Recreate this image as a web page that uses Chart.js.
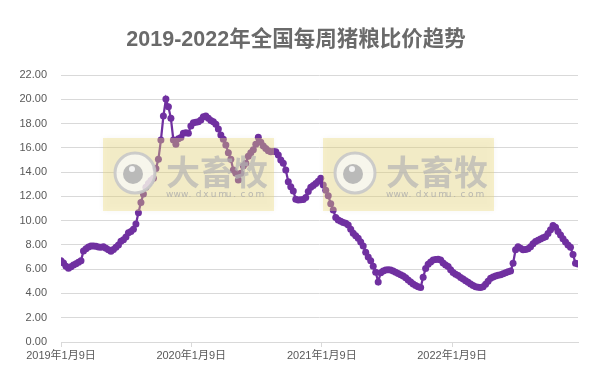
<!DOCTYPE html>
<html lang="zh-CN">
  <head>
    <meta charset="UTF-8" />
    <title>2019-2022年全国每周猪粮比价趋势</title>
    <script src="https://cdn.jsdelivr.net/npm/chart.js"></script>
    <style>
      html, body {
        margin: 0;
        padding: 0;
        background: #ffffff;
      }
      #wrap {
        width: 603px;
        height: 380px;
      }
    </style>
  </head>
  <body>
    <div id="wrap"><canvas id="chartCanvas" width="603" height="380"></canvas></div>

    <script>
      const chartTitle = "2019-2022年全国每周猪粮比价趋势";
      const startDate = "2019-01-09";
      const tickDates = ["2019-01-09", "2020-01-09", "2021-01-09", "2022-01-09"];
      const tickLabels = ["2019年1月9日", "2020年1月9日", "2021年1月9日", "2022年1月9日"];
      const yTicks = { min: 0, max: 22, step: 2 };

      // weekly hog/grain price ratio, one value per week from startDate
      const ratio = [
        6.70, 6.50, 6.25, 6.07, 6.20, 6.35, 6.45, 6.58, 6.70, 7.50,
        7.68, 7.82, 7.90, 7.92, 7.88, 7.82, 7.80, 7.85, 7.72, 7.60,
        7.48, 7.62, 7.80, 8.00, 8.30, 8.42, 8.65, 9.00, 9.10, 9.30,
        9.72, 10.65, 11.50, 12.20, 12.75, 13.05, 13.30, 13.50, 14.30, 15.05,
        16.64, 18.62, 20.02, 19.39, 18.43, 16.64, 16.29, 16.75, 16.85, 17.20,
        17.25, 17.20, 17.80, 18.07, 18.10, 18.15, 18.30, 18.55, 18.62, 18.43,
        18.25, 18.15, 17.94, 17.55, 17.05, 16.70, 16.23, 15.60, 15.05, 14.17,
        13.90, 13.35, 13.90, 14.50, 14.72, 15.30, 15.60, 15.85, 16.30, 16.87,
        16.45, 16.15, 15.95, 15.75, 15.68, 15.70, 15.68, 15.40, 15.00, 14.72,
        14.17, 13.21, 12.80, 12.44, 11.76, 11.70, 11.72, 11.75, 11.90, 12.40,
        12.75, 12.90, 13.05, 13.25, 13.49, 12.94, 12.50, 12.05, 11.40, 10.88,
        10.25, 10.05, 9.95, 9.85, 9.78, 9.64, 9.30, 8.96, 8.75, 8.54,
        8.25, 7.90, 7.40, 7.00, 6.70, 6.25, 5.75, 4.95, 5.70, 5.85,
        5.93, 5.95, 5.93, 5.85, 5.75, 5.65, 5.55, 5.44, 5.30, 5.11,
        4.95, 4.78, 4.65, 4.56, 4.50, 5.33, 6.05, 6.40, 6.60, 6.75,
        6.80, 6.81, 6.75, 6.50, 6.35, 6.22, 5.95, 5.72, 5.58, 5.48,
        5.32, 5.20, 5.05, 4.92, 4.78, 4.65, 4.55, 4.51, 4.50, 4.55,
        4.75, 5.00, 5.25, 5.35, 5.44, 5.50, 5.55, 5.62, 5.70, 5.78,
        5.85, 6.48, 7.60, 7.85, 7.72, 7.60, 7.62, 7.68, 7.85, 8.10,
        8.28, 8.38, 8.48, 8.58, 8.68, 8.95, 9.25, 9.60, 9.45, 9.10,
        8.82, 8.50, 8.25, 8.00, 7.80, 7.20, 6.48, 6.43
      ];

      function dayOffset(d) {
        return Math.round((Date.parse(d) - Date.parse(startDate)) / 86400000);
      }

      const points = ratio.map((v, i) => ({ x: i * 7, y: v }));
      const lastDay = (ratio.length - 1) * 7;

      // title centred on the whole picture, like the original
      const titlePlugin = {
        id: "titleText",
        afterDraw(chart) {
          const c = chart.ctx;
          c.save();
          c.font = 'bold 21.5px "Liberation Sans", "Noto Sans CJK SC", sans-serif';
          c.fillStyle = "#6a6a6a";
          c.textAlign = "center";
          c.textBaseline = "middle";
          c.fillText(chartTitle, 296, 40);
          c.restore();
        },
      };

      // pale "大畜牧" stamps lying over the plot
      const watermark = {
        id: "watermark",
        afterDatasetsDraw(chart) {
          const ctx = chart.ctx;
          [103, 323].forEach((bx) => {
            const by = 138;
            ctx.save();
            ctx.shadowColor = "rgba(0,0,0,0.10)";
            ctx.shadowBlur = 6;
            ctx.fillStyle = "rgba(236,218,120,0.38)";
            ctx.fillRect(bx, by, 171, 73);
            ctx.restore();

            ctx.save();
            const cx = bx + 32, cy = by + 35;
            ctx.beginPath();
            ctx.arc(cx, cy, 20, 0, Math.PI * 2);
            ctx.fillStyle = "rgba(250,250,250,0.75)";
            ctx.fill();
            ctx.lineWidth = 3;
            ctx.strokeStyle = "rgba(200,200,200,0.9)";
            ctx.stroke();
            ctx.beginPath();
            ctx.arc(cx - 2, cy + 1, 10, 0, Math.PI * 2);
            ctx.fillStyle = "rgba(180,180,180,0.9)";
            ctx.fill();
            ctx.beginPath();
            ctx.arc(cx - 3, cy - 4, 3, 0, Math.PI * 2);
            ctx.fillStyle = "rgba(245,245,245,0.95)";
            ctx.fill();

            ctx.fillStyle = "rgba(180,180,180,0.7)";
            ctx.font = 'bold 34px "Noto Sans CJK SC", sans-serif';
            ctx.textBaseline = "alphabetic";
            ctx.textAlign = "left";
            ctx.fillText("大畜牧", bx + 63, by + 47);

            ctx.font = '9px "DejaVu Sans", sans-serif';
            ctx.fillStyle = "rgba(170,170,170,0.8)";
            const url = "www.dxumu.com";
            const step = 97 / url.length;
            for (let k = 0; k < url.length; k++) {
              ctx.fillText(url[k], bx + 63 + k * step, by + 59);
            }
            ctx.restore();
          });
        },
      };

      const ctx = document.getElementById("chartCanvas").getContext("2d");
      const chart = new Chart(ctx, {
        type: "line",
        data: {
          datasets: [
            {
              label: "猪粮比价",
              data: points,
              borderColor: "#7030A0",
              backgroundColor: "#7030A0",
              borderWidth: 2.25,
              pointRadius: 3.5,
              pointBorderWidth: 0,
              pointBackgroundColor: "#7030A0",
              tension: 0,
              fill: false,
            },
          ],
        },
        options: {
          responsive: false,
          animation: false,
          layout: {
            padding: { left: 0, right: 25, top: 75, bottom: 0 },
          },
          plugins: {
            legend: { display: false },
            tooltip: { enabled: false },
            title: { display: false },
          },
          scales: {
            x: {
              type: "linear",
              min: 0,
              max: lastDay,
              afterBuildTicks(scale) {
                scale.ticks = tickDates.map((d) => ({ value: dayOffset(d) }));
              },
              afterFit(scale) {
                scale.height = 38;
              },
              grid: {
                drawOnChartArea: false,
                drawTicks: true,
                tickLength: 5,
                color: "#d9d9d9",
              },
              border: { display: true, color: "#d9d9d9" },
              ticks: {
                autoSkip: false,
                maxRotation: 0,
                padding: 2,
                color: "#595959",
                font: { family: '"Liberation Sans", "Noto Sans CJK SC", sans-serif', size: 11 },
                callback: (value, index) => tickLabels[index],
              },
            },
            y: {
              min: yTicks.min,
              max: yTicks.max,
              afterFit(scale) {
                scale.width = 61;
              },
              grid: {
                color: "#d9d9d9",
                drawTicks: false,
              },
              border: { display: false },
              ticks: {
                stepSize: yTicks.step,
                padding: 14,
                color: "#595959",
                font: { family: '"Liberation Sans", "Noto Sans CJK SC", sans-serif', size: 11 },
                callback: (v) => v.toFixed(2),
              },
            },
          },
        },
        plugins: [watermark, titlePlugin],
      });
    </script>
  </body>
</html>
